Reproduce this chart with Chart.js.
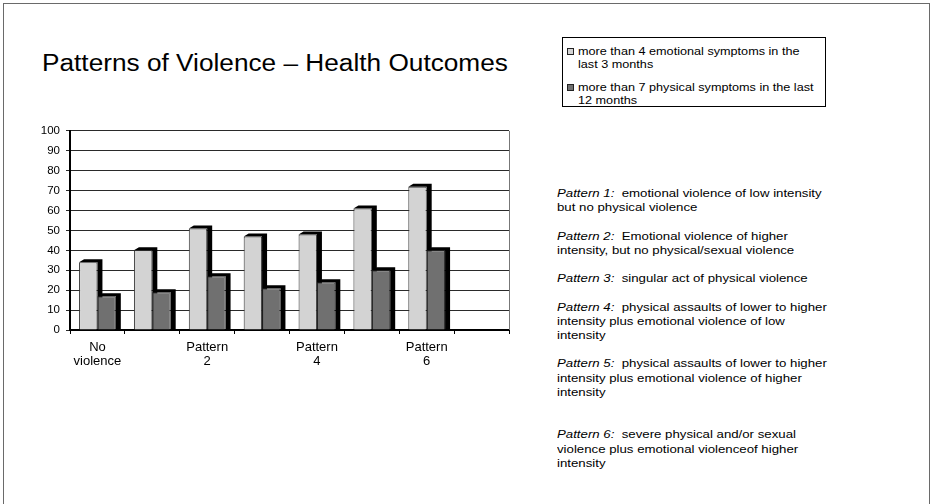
<!DOCTYPE html>
<html>
<head>
<meta charset="utf-8">
<script src="https://cdn.jsdelivr.net/npm/chart.js@4/dist/chart.umd.min.js"></script>
<style>
  html, body { margin: 0; padding: 0; background: #fff; }
  body { width: 930px; height: 504px; position: relative; overflow: hidden;
         font-family: "Liberation Sans", Arial, sans-serif; color: #000; }
  #frame { position: absolute; left: 3px; top: 3px; width: 925px; height: 600px;
           border: 1px solid #6a6a6a; box-sizing: content-box; }
  #title { position: absolute; left: 42px; top: 52px; font-size: 23px; line-height: 23px;
           white-space: nowrap; transform: scaleX(1.14); transform-origin: 0 0; }
  #legend { position: absolute; left: 562px; top: 37px; width: 264px; height: 70px;
            border: 1px solid #000; box-sizing: border-box; }
  .litem { position: absolute; left: 15px; font-size: 11.5px; line-height: 12.5px;
           white-space: nowrap; transform: scaleX(1.1); transform-origin: 0 0; }
  .swatch { position: absolute; left: 4px; width: 5px; height: 5px; border: 1px solid #222; }
  #notes { position: absolute; left: 557px; top: 186px; font-size: 11.5px; line-height: 14.2px;
           white-space: nowrap; transform: scaleX(1.15); transform-origin: 0 0; }
  #notes i { font-style: italic; }
  #wrap { position: absolute; left: 15px; top: 118px; width: 500px; height: 262px; }
</style>
</head>
<body>
<div id="frame"></div>
<div id="title">Patterns of Violence – Health Outcomes</div>

<div id="legend">
  <div class="swatch" style="top:10px;background:#d3d3d3"></div>
  <div class="litem" style="top:7px">more than 4 emotional symptoms in the<br>last 3 months</div>
  <div class="swatch" style="top:46px;background:#707070"></div>
  <div class="litem" style="top:43px">more than 7 physical symptoms in the last<br>12 months</div>
</div>

<div id="notes"><i>Pattern 1:</i>&nbsp; emotional violence of low intensity<br>but no physical violence<br><br><i>Pattern 2:</i>&nbsp; Emotional violence of higher<br>intensity, but no physical/sexual violence<br><br><i>Pattern 3:</i>&nbsp; singular act of physical violence<br><br><i>Pattern 4:</i>&nbsp; physical assaults of lower to higher<br>intensity plus emotional violence of low<br>intensity<br><br><i>Pattern 5:</i>&nbsp; physical assaults of lower to higher<br>intensity plus emotional violence of higher<br>intensity<br><br><br><i>Pattern 6:</i>&nbsp; severe physical and/or sexual<br>violence plus emotional violenceof higher<br>intensity</div>

<div id="wrap"><canvas id="chart" width="500" height="262"></canvas></div>

<script>
// Violence patterns (last slot stays empty on the axis)
const categories = ["No violence", "Pattern 1", "Pattern 2", "Pattern 3", "Pattern 4", "Pattern 5", "Pattern 6", ""];
// Axis text: every other category is labelled
const tickLabels = [["No", "violence"], "", ["Pattern", "2"], "", ["Pattern", "4"], "", ["Pattern", "6"], ""];
const seriesNames = ["more than 4 emotional symptoms in the last 3 months",
                     "more than 7 physical symptoms in the last 12 months"];
const emotionalSymptoms = [34, 40, 51, 47, 48, 61, 72];
const physicalSymptoms  = [17, 19, 27, 21, 24, 30, 40];
const yTicks = [0, 10, 20, 30, 40, 50, 60, 70, 80, 90, 100];

const FAMILY = "'Liberation Sans', Arial, sans-serif";

// Black extruded edge behind every column (top and right side)
const columnDepth = {
  id: 'columnDepth',
  beforeDatasetsDraw(chart) {
    const ctx = chart.ctx, dx = 5, dy = 3;
    ctx.save();
    ctx.fillStyle = '#000';
    chart.data.datasets.forEach((ds, i) => {
      chart.getDatasetMeta(i).data.forEach(bar => {
        if (bar.skip) return;
        const l = bar.x - bar.width / 2, r = bar.x + bar.width / 2;
        const t = bar.y, b = bar.base;
        ctx.beginPath();
        ctx.moveTo(l, t);
        ctx.lineTo(l + dx, t - dy);
        ctx.lineTo(r + dx, t - dy);
        ctx.lineTo(r + dx, b);
        ctx.lineTo(r, b);
        ctx.lineTo(r, t);
        ctx.closePath();
        ctx.fill();
      });
    });
    ctx.restore();
  },
  afterDraw(chart) {
    // right edge of the plot wall
    const a = chart.chartArea, ctx = chart.ctx;
    ctx.save();
    ctx.strokeStyle = '#777';
    ctx.lineWidth = 1;
    ctx.beginPath();
    ctx.moveTo(Math.round(a.right) + 0.5, a.top);
    ctx.lineTo(Math.round(a.right) + 0.5, a.bottom);
    ctx.stroke();
    ctx.restore();
  }
};

new Chart(document.getElementById('chart'), {
  type: 'bar',
  data: {
    labels: tickLabels,
    datasets: [
      { label: seriesNames[0], data: emotionalSymptoms, backgroundColor: '#d3d3d3',
        borderColor: '#333', borderWidth: 1 },
      { label: seriesNames[1], data: physicalSymptoms, backgroundColor: '#707070',
        borderColor: '#222', borderWidth: 1 }
    ]
  },
  options: {
    responsive: false,
    animation: false,
    layout: { padding: { top: 12, right: 6, left: 0, bottom: 0 } },
    plugins: {
      legend: { display: false },
      tooltip: { enabled: false },
      title: { display: false }
    },
    datasets: { bar: { categoryPercentage: 0.67, barPercentage: 1.0 } },
    scales: {
      x: {
        offset: true,
        grid: { offset: true, drawOnChartArea: false, drawTicks: true, tickLength: 4, color: '#000', lineWidth: 1 },
        border: { display: true, color: '#000', width: 2 },
        ticks: { autoSkip: false, maxRotation: 0, minRotation: 0, padding: 6, color: '#000',
                 font: { family: FAMILY, size: 13, lineHeight: 1.08 } },
        afterFit(scale) { scale.height = 50; }
      },
      y: {
        min: 0, max: 100,
        afterBuildTicks(scale) { scale.ticks = yTicks.map(v => ({ value: v })); },
        grid: { color: '#2a2a2a', lineWidth: 1, drawTicks: true, tickLength: 4 },
        border: { display: true, color: '#000', width: 2 },
        ticks: { padding: 6, color: '#000', font: { family: FAMILY, size: 11.5 } },
        afterFit(scale) { scale.width = 55; }
      }
    }
  },
  plugins: [columnDepth]
});
</script>
</body>
</html>
